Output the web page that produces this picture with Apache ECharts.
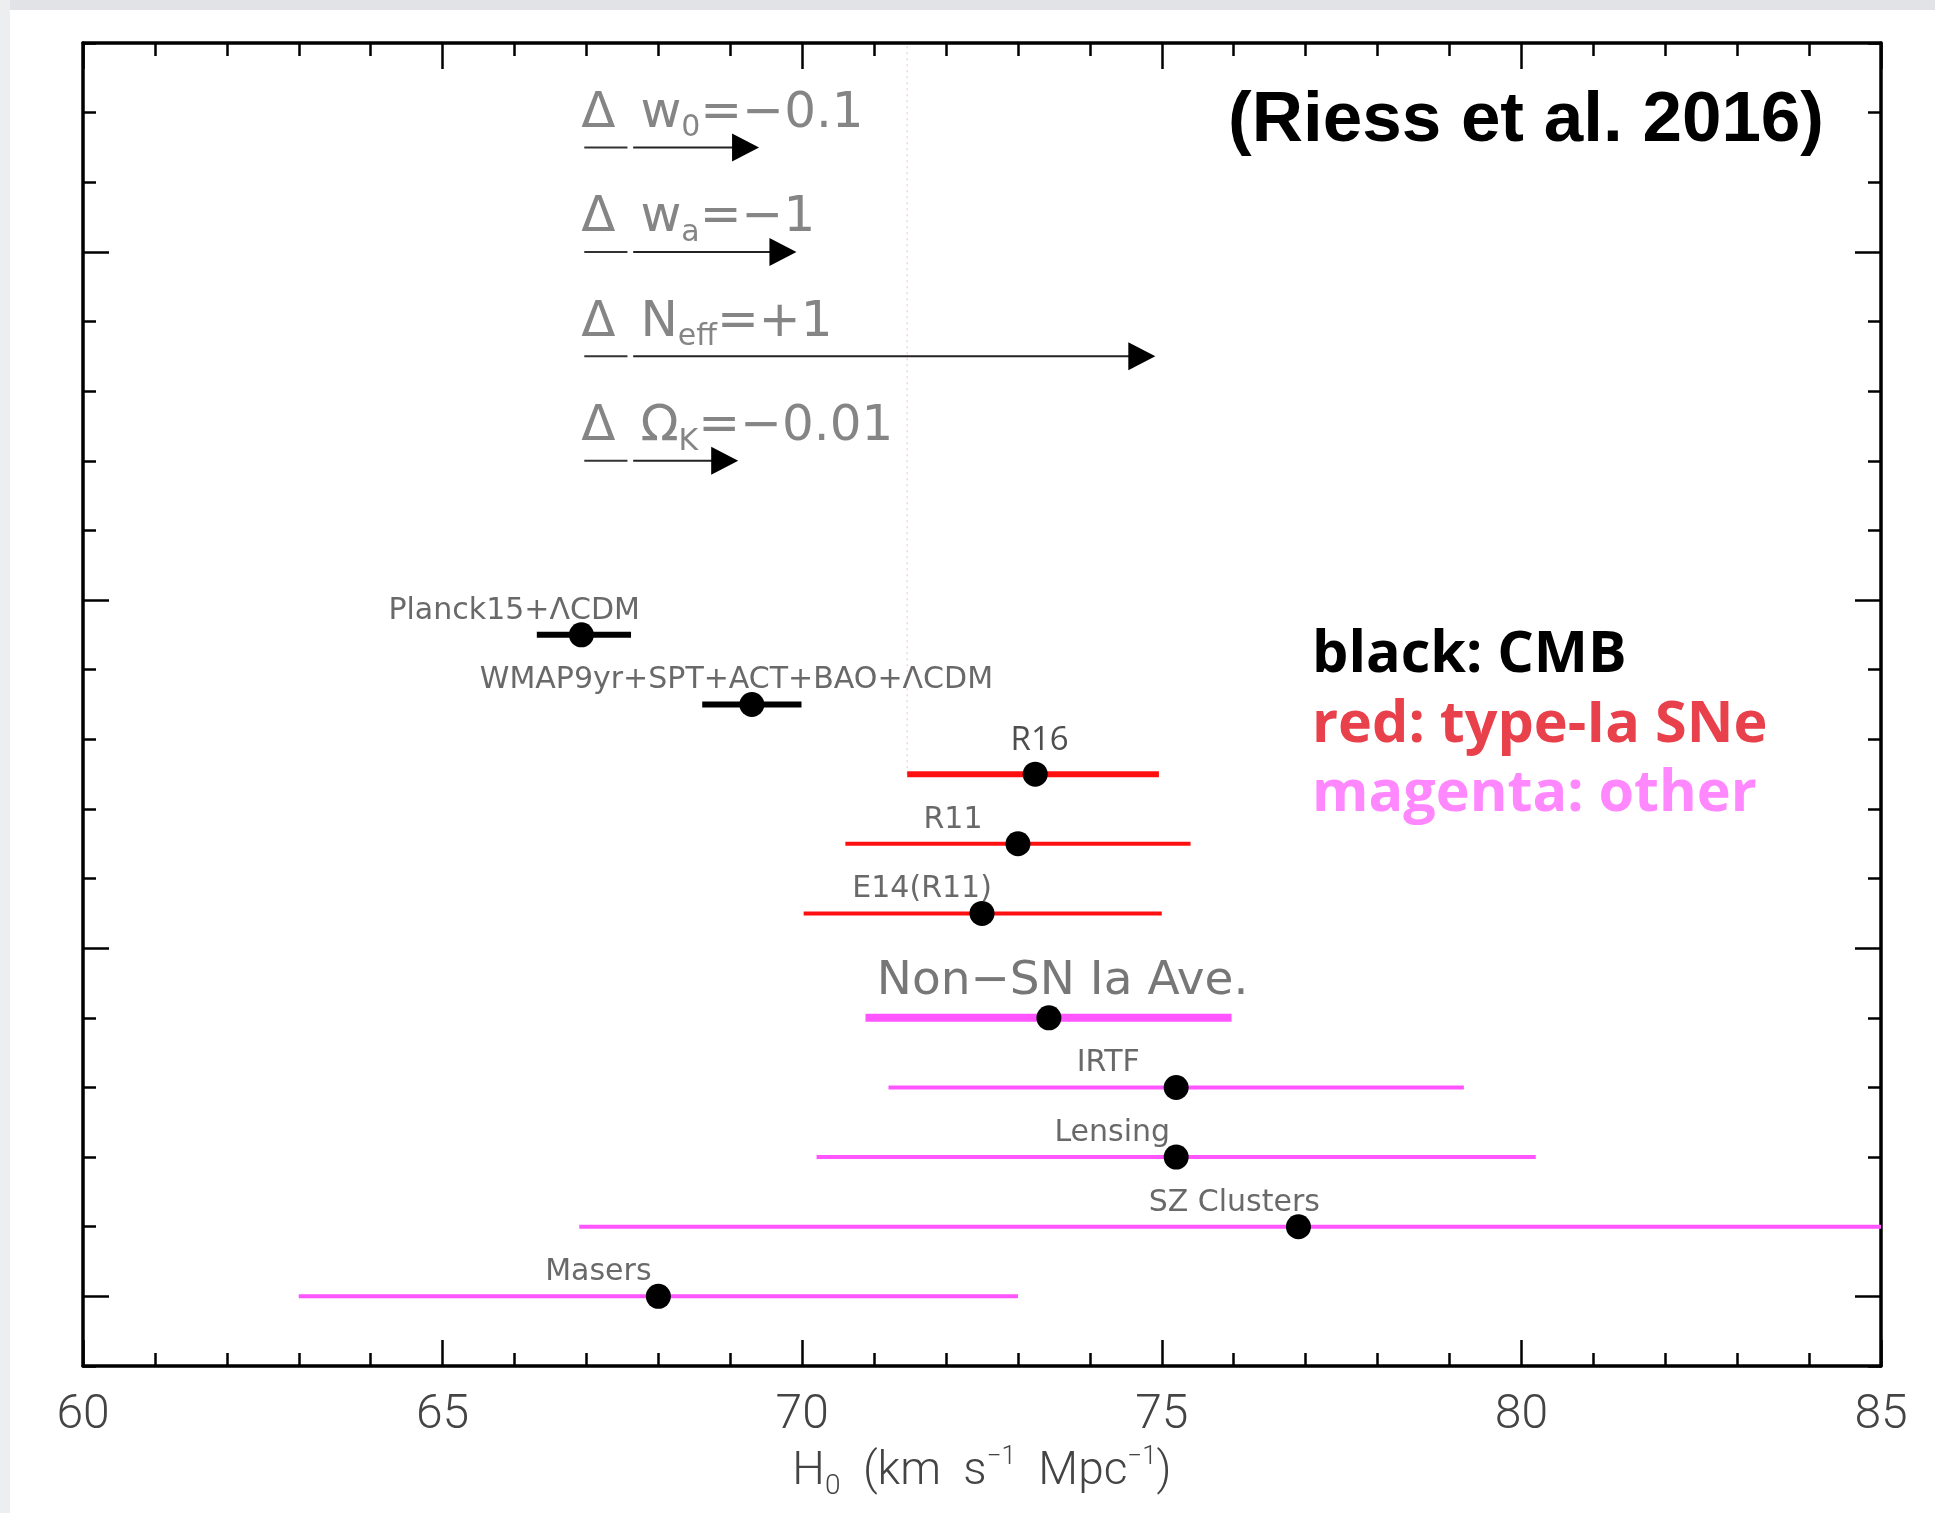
<!DOCTYPE html>
<html><head><meta charset="utf-8">
<script src="https://cdn.jsdelivr.net/npm/echarts@6/dist/echarts.min.js"></script>
<style>html,body{margin:0;padding:0;background:#fff}#c{width:1935px;height:1513px}</style>
</head><body><div id="c"></div>
<script>
// ---- data ----
const xTickValues = [60, 65, 70, 75, 80, 85];
const yMajorTicks = [1, 6, 11, 16];
const names   = ['Planck15+ΛCDM', 'WMAP9yr+SPT+ACT+BAO+ΛCDM', 'R16', 'R11', 'E14(R11)', 'Non−SN Ia Ave.', 'IRTF', 'Lensing', 'SZ Clusters', 'Masers'];
const centers = [66.93, 69.30, 73.24, 73.00, 72.50, 73.43, 75.20, 75.20, 76.90, 68.00];
const lows    = [66.31, 68.61, 71.46, 70.60, 70.02, 70.88, 71.20, 70.20, 66.90, 63.00];
const highs   = [67.62, 69.99, 74.96, 75.40, 75.00, 75.97, 79.20, 80.20, 86.90, 73.00];
const rows    = [10.5, 9.5, 8.5, 7.5, 6.5, 5, 4, 3, 2, 1];
const groups  = ['cmb', 'cmb', 'sn', 'sn', 'sn', 'other', 'other', 'other', 'other', 'other'];
const labelX  = [64.24, 65.51, 72.89, 71.68, 70.69, 71.03, 73.81, 73.50, 74.81, 66.42];

const shiftParam = ['w', 'w', 'N', 'Ω'];
const shiftSub   = ['0', 'a', 'eff', 'K'];
const shiftValue = ['−0.1', '−1', '+1', '−0.01'];
const shiftStart = 67.65;
const shiftEnd   = [69.40, 69.92, 74.91, 69.11];
const shiftRows  = [17.5, 16, 14.5, 13];
const shiftTextRows = [18, 16.5, 15, 13.5];
const shiftTextX = 66.92;
const underlineFrom = 66.97, underlineTo = 67.57;

const titleText = '(Riess et al. 2016)';
const legendLines = ['black: CMB', 'red: type-Ia SNe', 'magenta: other'];
const yMin = 0, yMax = 19;

// ---- styles ----
const groupColor = { cmb: '#000000', sn: '#ff1010', other: '#ff55ff' };
const legendColor = ['#000000', '#e8414b', '#ff88ff'];
const barWidth = [6, 6, 6, 4, 4, 8, 4, 4, 4, 4];

const chart = echarts.init(document.getElementById('c'), null, { renderer: 'canvas' });

const tickStyle = { color: '#000', width: 2.5 };
const lineStyleAxis = { color: '#000', width: 3.5 };

function xAx(pos, showLabel) {
  return {
    type: 'value', position: pos, min: 60, max: 85, interval: 5,
    axisLine: { show: true, onZero: false, lineStyle: lineStyleAxis },
    axisTick: { show: true, inside: true, length: 26, lineStyle: tickStyle },
    minorTick: { show: true, splitNumber: 5, length: 13, lineStyle: tickStyle },
    splitLine: { show: false }, minorSplitLine: { show: false },
    axisLabel: { show: showLabel, margin: 26, fontFamily: 'Roboto', fontWeight: 300, fontSize: 48, color: '#444',
      formatter: v => xTickValues.includes(v) ? String(v) : '' }
  };
}
function yAx(pos, major) {
  const a = {
    type: 'value', position: pos, min: yMin, max: yMax,
    axisLine: { show: !major, onZero: false, lineStyle: lineStyleAxis },
    splitLine: { show: false },
    axisLabel: { show: false }
  };
  if (major) {
    a.axisTick = { show: true, inside: true, length: 26, lineStyle: tickStyle, customValues: yMajorTicks };
    a.axisLabel = { show: false, customValues: yMajorTicks };
  } else {
    a.interval = 1;
    a.axisTick = { show: true, inside: true, length: 13, lineStyle: tickStyle };
  }
  return a;
}

const xBottom = xAx('bottom', true);
xBottom.name = '{n|H}{s|0}{n|  (km  s}{p|−1}{n|  Mpc}{p|−1}{n|)}';
xBottom.nameLocation = 'middle';
xBottom.nameGap = 74;
xBottom.nameTextStyle = {
  rich: {
    n: { fontFamily: 'Roboto', fontWeight: 300, fontSize: 46, color: '#444', lineHeight: 56 },
    s: { fontFamily: 'Roboto', fontWeight: 300, fontSize: 28, color: '#444', lineHeight: 22, verticalAlign: 'bottom' },
    p: { fontFamily: 'Roboto', fontWeight: 300, fontSize: 26, color: '#444', lineHeight: 22, verticalAlign: 'top' }
  }
};

const labelData = names.map((n, i) => {
  const d = { value: [labelX[i], rows[i]] };
  if (n === 'R16') d.label = { fontFamily: 'Open Sans', fontSize: 33, color: '#222', offset: [0, -34] };
  if (n === 'Non−SN Ia Ave.') d.label = { fontSize: 47, color: '#555', offset: [0, -36] };
  return d;
});

const option = {
  backgroundColor: '#ffffff',
  animation: false,
  grid: { left: 83, right: 54, top: 43, bottom: 147, containLabel: false },
  graphic: [
    { type: 'rect', left: 0, top: 0, shape: { width: 1935, height: 10 }, style: { fill: '#e1e3e6' }, z: 100 },
    { type: 'rect', left: 0, top: 0, shape: { width: 10, height: 1513 }, style: { fill: '#eceef0' }, z: 100 }
  ],
  title: [
    { text: titleText, right: 111, top: 85, padding: 0,
      textStyle: { fontFamily: 'Liberation Sans', fontWeight: 'bold', fontSize: 71, color: '#000', lineHeight: 72 } }
  ].concat(legendLines.map((t, i) => ({
    text: t, left: 1312, top: 623 + i * 69.5, padding: 0,
    textStyle: { fontFamily: 'Open Sans', fontWeight: 'bold', fontSize: 57.5, color: legendColor[i], lineHeight: 66 }
  }))),
  xAxis: [xBottom, xAx('top', false)],
  yAxis: [yAx('left', false), yAx('left', true), yAx('right', false), yAx('right', true)],
  series: [
    {
      type: 'line', name: 'guide', xAxisIndex: 0, yAxisIndex: 0, silent: true, symbol: 'none',
      data: [[lows[2], rows[2]], [lows[2], yMax]],
      lineStyle: { color: '#f5d3da', width: 1.5, type: [2, 4] }, z: 1
    },
    {
      type: 'custom', name: 'errors', xAxisIndex: 0, yAxisIndex: 0, clip: true, z: 2,
      data: names.map((n, i) => [lows[i], highs[i], rows[i], centers[i]]),
      encode: { x: [0, 1], y: 2 },
      renderItem: (params, api) => {
        const i = params.dataIndex;
        const a = api.coord([api.value(0), api.value(2)]);
        const b = api.coord([api.value(1), api.value(2)]);
        return { type: 'line', shape: { x1: a[0], y1: a[1], x2: b[0], y2: b[1] },
          style: { stroke: groupColor[groups[i]], lineWidth: barWidth[i], lineCap: 'butt' } };
      }
    },
    {
      type: 'scatter', name: 'points', xAxisIndex: 0, yAxisIndex: 0, z: 5,
      data: centers.map((c, i) => [c, rows[i]]),
      symbol: 'circle', symbolSize: 25, itemStyle: { color: '#000', opacity: 1 }
    },
    {
      type: 'scatter', name: 'labels', xAxisIndex: 0, yAxisIndex: 0, z: 6, silent: true,
      data: labelData, symbol: 'circle', symbolSize: 1, itemStyle: { color: 'rgba(0,0,0,0)' },
      label: { show: true, position: 'right', distance: 0, offset: [0, -24],
        formatter: p => names[p.dataIndex], fontFamily: 'DejaVu Sans', fontSize: 30, color: '#444' }
    },
    {
      type: 'custom', name: 'shifts', xAxisIndex: 0, yAxisIndex: 0, z: 4,
      data: shiftEnd.map((e, i) => [shiftStart, e, shiftRows[i], underlineFrom, underlineTo]),
      encode: { x: [0, 1], y: 2 },
      renderItem: (params, api) => {
        const y = api.value(2);
        const p0 = api.coord([api.value(0), y]);
        const p1 = api.coord([api.value(1), y]);
        const u0 = api.coord([api.value(3), y]);
        const u1 = api.coord([api.value(4), y]);
        const hl = 27, hh = 14;
        return { type: 'group', children: [
          { type: 'line', shape: { x1: u0[0], y1: u0[1], x2: u1[0], y2: u1[1] }, style: { stroke: '#333', lineWidth: 2 } },
          { type: 'line', shape: { x1: p0[0], y1: p0[1], x2: p1[0] - hl + 2, y2: p1[1] }, style: { stroke: '#222', lineWidth: 2 } },
          { type: 'polygon', shape: { points: [[p1[0], p1[1]], [p1[0] - hl, p1[1] - hh], [p1[0] - hl, p1[1] + hh]] }, style: { fill: '#000' } }
        ] };
      }
    },
    {
      type: 'scatter', name: 'shiftText', xAxisIndex: 0, yAxisIndex: 0, z: 6, silent: true,
      data: shiftTextRows.map(r => [shiftTextX, r]), symbol: 'circle', symbolSize: 1,
      itemStyle: { color: 'rgba(0,0,0,0)' },
      label: { show: true, position: 'right', distance: 0, offset: [0, 1],
        formatter: p => '{t|Δ\u2002' + shiftParam[p.dataIndex] + '}{s|' + shiftSub[p.dataIndex] + '}{t|=' + shiftValue[p.dataIndex] + '}',
        rich: {
          t: { fontFamily: 'DejaVu Sans', fontSize: 50, color: '#666', lineHeight: 60 },
          s: { fontFamily: 'DejaVu Sans', fontSize: 30, color: '#666', lineHeight: 30, verticalAlign: 'bottom' }
        } }
    }
  ]
};
chart.setOption(option);
</script>
</body></html>
